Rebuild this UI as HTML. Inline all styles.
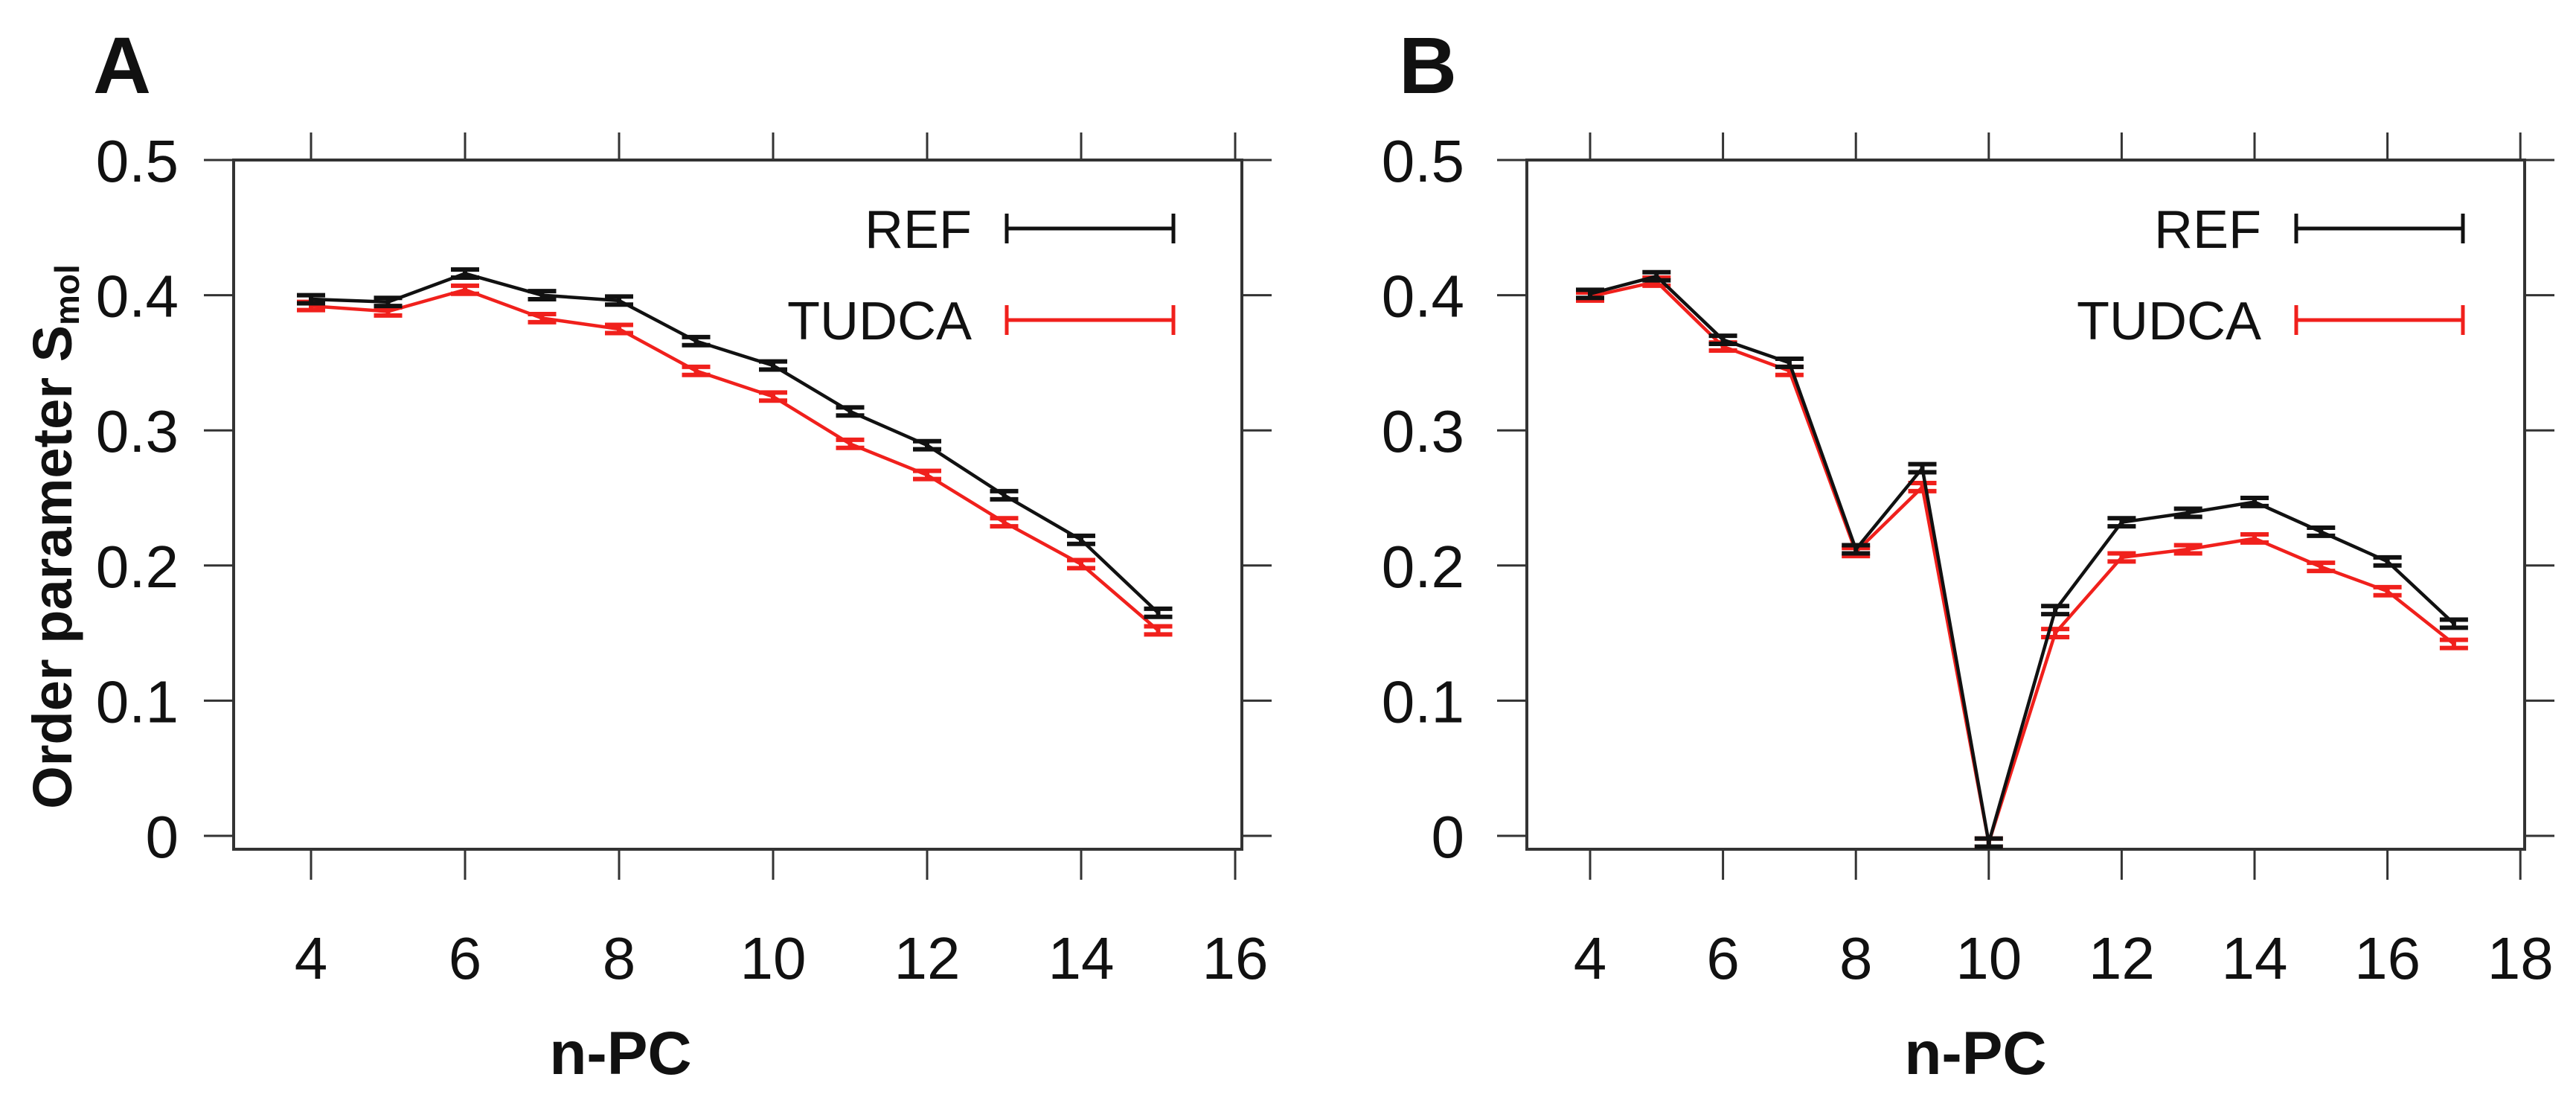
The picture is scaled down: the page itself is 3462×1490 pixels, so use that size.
<!DOCTYPE html>
<html><head><meta charset="utf-8"><style>
html,body{margin:0;padding:0;background:#fff;overflow:hidden}
svg{display:block}
text{font-family:"Liberation Sans",Arial,sans-serif}
</style></head><body>
<svg id="fig" width="3462" height="1490" viewBox="0 0 3462 1490" xmlns="http://www.w3.org/2000/svg"></svg>
<script>
const xA = [4,5,6,7,8,9,10,11,12,13,14,15];
const refA = [0.397,0.395,0.416,0.400,0.396,0.366,0.348,0.314,0.289,0.252,0.219,0.165];
const tudA = [0.392,0.388,0.404,0.383,0.375,0.344,0.325,0.290,0.267,0.232,0.201,0.152];
const xB = [4,5,6,7,8,9,10,11,12,13,14,15,16,17];
const refB = [0.401,0.414,0.367,0.350,0.212,0.272,-0.005,0.167,0.232,0.239,0.247,0.225,0.203,0.157];
const tudB = [0.399,0.410,0.362,0.344,0.210,0.258,-0.005,0.150,0.206,0.212,0.220,0.199,0.181,0.142];
const errA = 0.003, errB = 0.003;
const yTicks = [0,0.1,0.2,0.3,0.4,0.5];
const yTickLabels = ["0","0.1","0.2","0.3","0.4","0.5"];
const xTicksA = [4,6,8,10,12,14,16];
const xTicksB = [4,6,8,10,12,14,16,18];

const NS="http://www.w3.org/2000/svg";
const svg=document.getElementById('fig');
function mk(tag,attrs,parent){const e=document.createElementNS(NS,tag);for(const k in attrs)e.setAttribute(k,attrs[k]);(parent||svg).appendChild(e);return e;}
const TOP=215, BOT=1141, Y0=1123, YS=1816;

function panel(p){
  const g=mk('g',{});
  
  
  const X=v=>p.x0+(v-4)*p.xs;
  const Y=v=>Y0-v*YS;
  const fr=mk('rect',{x:p.L,y:TOP,width:p.R-p.L,height:BOT-TOP,fill:'none',stroke:'#333','stroke-width':4},g);
  
  
  yTicks.forEach((v,i)=>{
    const y=Y(v);
    mk('line',{x1:p.L-40,x2:p.L,y1:y,y2:y,stroke:'#333','stroke-width':3},g);
    mk('line',{x1:p.R,x2:p.R+40,y1:y,y2:y,stroke:'#333','stroke-width':3},g);
    const t=mk('text',{x:p.labR,y:y+29,'text-anchor':'end','font-size':80,fill:'#111'},g);
    t.textContent=yTickLabels[i];
    
    
  });
  p.xt.forEach(v=>{
    const x=X(v);
    mk('line',{x1:x,x2:x,y1:178,y2:TOP,stroke:'#333','stroke-width':3},g);
    mk('line',{x1:x,x2:x,y1:BOT,y2:1182,stroke:'#333','stroke-width':3},g);
    const t=mk('text',{x:x,y:1315,'text-anchor':'middle','font-size':80,fill:'#111'},g);
    t.textContent=String(v);
    
    
  });
  const xt=mk('text',{x:p.nx,y:1443,'text-anchor':'middle','font-size':82,'font-weight':'bold',fill:'#111'},g);
  xt.textContent='n-PC';
  
  
  const pl=mk('text',{x:p.labX,y:125,'font-size':108,'font-weight':'bold',fill:'#111'},g);
  pl.textContent=p.id;
  
  
  [[p.tud,'#f0201c','tudca'],[p.ref,'#111','ref']].forEach(([ys,col,nm])=>{
    const pts=p.xs_.map((xv,i)=>X(xv)+','+Y(ys[i])).join(' ');
    const line=mk('polyline',{points:pts,fill:'none',stroke:col,'stroke-width':4.5},g);
    
    
    p.xs_.forEach((xv,i)=>{
      const x=X(xv),yt=Y(ys[i]+p.err),yb=Y(ys[i]-p.err);
      const eb=mk('path',{d:`M${x-19},${yt}H${x+19}M${x},${yt}V${yb}M${x-19},${yb}H${x+19}`,stroke:col,'stroke-width':6,fill:'none'},g);
      
      
    });
  });
  [['REF','#111',307],['TUDCA','#f0201c',430]].forEach(([lab,col,y])=>{
    const t=mk('text',{x:p.legX,y:y+26,'text-anchor':'end','font-size':72,fill:'#111'},g);
    t.textContent=lab;
    
    
    mk('path',{d:`M${p.legX+47},${y}H${p.legX+271}M${p.legX+47},${y-20}V${y+20}M${p.legX+271},${y-20}V${y+20}`,stroke:col,'stroke-width':5,fill:'none'},g);
  });
}
panel({id:'A',L:314,R:1669,labR:240,x0:418,xs:103.5,xt:xTicksA,xs_:xA,ref:refA,tud:tudA,err:errA,labX:125,legX:1306,nx:834});
panel({id:'B',L:2052,R:3393,labR:1968,x0:2137,xs:89.3,xt:xTicksB,xs_:xB,ref:refB,tud:tudB,err:errB,labX:1880,legX:3039,nx:2655});

const yt=mk('text',{x:0,y:0,transform:'translate(96,721) rotate(-90)','text-anchor':'middle','font-size':74,'font-weight':'bold',fill:'#111'});


yt.textContent='Order parameter S';
const sub=mk('tspan',{'font-size':46,dy:10},yt);
sub.textContent='mol';
</script>
</body></html>
